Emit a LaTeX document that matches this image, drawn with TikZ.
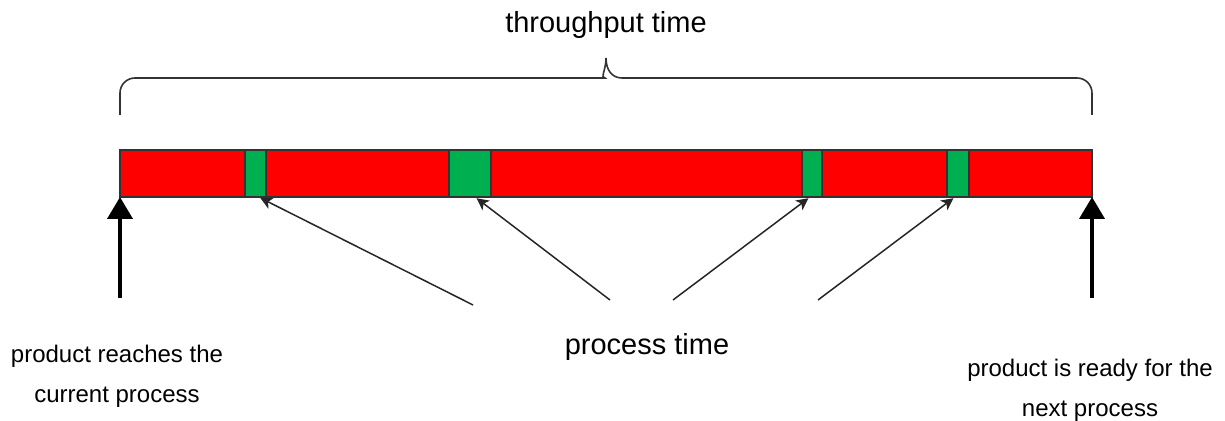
\documentclass[tikz,border=0pt]{standalone}
\usepackage{fontspec}
\setmainfont{Liberation Sans}
\usetikzlibrary{arrows.meta,fit}
\definecolor{barred}{HTML}{FF0000}
\definecolor{bargreen}{HTML}{00B050}
\definecolor{edge}{HTML}{333333}

\begin{document}
\begin{tikzpicture}[x=0.5pt,y=-0.5pt,
  seg/.style={draw=edge, line width=0.8pt, inner sep=0pt, outer sep=0pt},
  waitseg/.style={seg, fill=barred},
  workseg/.style={seg, fill=bargreen},
  bracket/.style={draw=edge, line width=0.8pt},
  bigarrow/.style={draw=black, line width=2pt, -{Triangle[width=12.5pt,length=11pt]}},
  thinarrow/.style={draw=black!85, line width=0.75pt, shorten >=1pt,
    -{Stealth[length=6pt,width=6pt,inset=1.6pt]}},
  title/.style={font=\fontsize{14.5}{17}\selectfont, inner sep=0pt},
  note/.style={font=\fontsize{12}{20}\selectfont, align=center, inner sep=0pt}]

\useasboundingbox (0,0) rectangle (1225,421);

% the time bar: waiting (red) and processing (green) segments
\node[waitseg, fit={(120,150) (245,197)}] (r1) {};
\node[waitseg, fit={(266,150) (449,197)}] (r2) {};
\node[waitseg, fit={(491,150) (802,197)}] (r3) {};
\node[waitseg, fit={(822,150) (947,197)}] (r4) {};
\node[waitseg, fit={(969,150) (1092,197)}] (r5) {};
\node[workseg, fit={(245,150) (266,197)}] (g1) {};
\node[workseg, fit={(449,150) (491,197)}] (g2) {};
\node[workseg, fit={(802,150) (822,197)}] (g3) {};
\node[workseg, fit={(947,150) (969,197)}] (g4) {};

% curly bracket over the whole bar
\draw[bracket, rounded corners=7.5pt] (120,115) |- (590,78)
  [sharp corners] .. controls (600,78) and (606,70) .. (606,58)
  .. controls (606,70) and (612,78) .. (622,78)
  [rounded corners=7.5pt] -| (1092,115);
\node[title, anchor=base] (tt) at (606,33) {throughput time};

% start and end of the throughput time
\coordinate (inpt) at (120,298);
\coordinate (outpt) at (1092,298);
\draw[bigarrow] (inpt) -- (r1.south west);
\draw[bigarrow] (outpt) -- (r5.south east);
\node[note] (inlabel) at (117,376) {product reaches the\\current process};
\node[note] (outlabel) at (1090,390) {product is ready for the\\next process};

% process time pointers
\node[title, anchor=base] (pt) at (647,355) {process time};
\coordinate (p1) at (473,305);
\coordinate (p2) at (610,300);
\coordinate (p3) at (673,300);
\coordinate (p4) at (818,300);
\draw[thinarrow] (p1) -- ([xshift=1.5pt]g1.south);
\draw[thinarrow] (p2) -- ([xshift=2.5pt]g2.south);
\draw[thinarrow] (p3) -- ([xshift=-1pt]g3.south);
\draw[thinarrow] (p4) -- ([xshift=-1.5pt]g4.south);
\end{tikzpicture}
\end{document}
